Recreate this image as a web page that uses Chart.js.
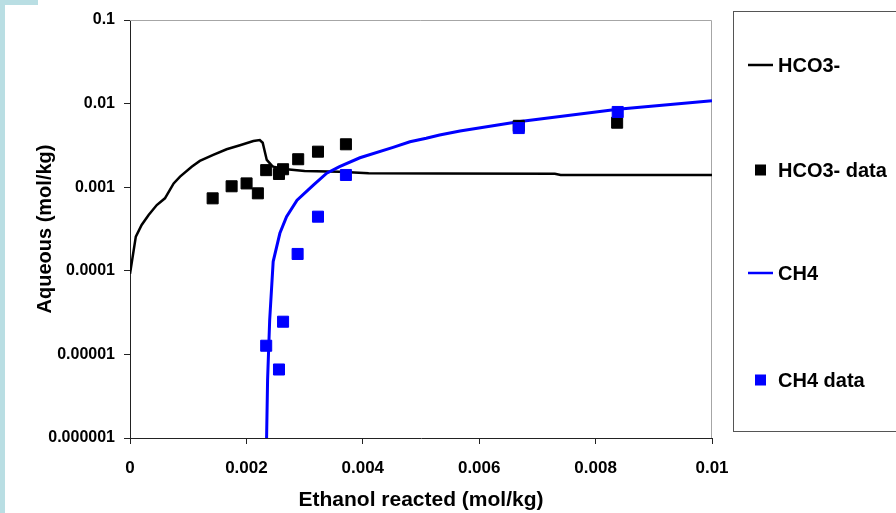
<!DOCTYPE html>
<html>
<head>
<meta charset="utf-8">
<script src="https://cdn.jsdelivr.net/npm/chart.js@4.4.1/dist/chart.umd.min.js"></script>
<style>
  html, body { margin: 0; padding: 0; background: #fff; overflow: hidden; }
  canvas { display: block; }
</style>
</head>
<body>
<canvas id="chart" width="896" height="513"></canvas>
<script>
// Model curves
const hco3ModelX = [0, 0.0001, 0.0002, 0.00032, 0.00046, 0.0006, 0.00075, 0.00086, 0.00106, 0.0012, 0.00143, 0.00166, 0.00189, 0.00212, 0.00223, 0.00228, 0.00235, 0.00243, 0.00246, 0.00269, 0.003, 0.0036, 0.0041, 0.0053, 0.0073, 0.0074, 0.01];
const hco3ModelY = [9.2e-5, 2.56e-4, 3.53e-4, 4.65e-4, 6.12e-4, 7.36e-4, 1.11e-3, 1.34e-3, 1.76e-3, 2.06e-3, 2.43e-3, 2.84e-3, 3.17e-3, 3.57e-3, 3.67e-3, 3.4e-3, 2.12e-3, 1.84e-3, 1.76e-3, 1.64e-3, 1.56e-3, 1.53e-3, 1.47e-3, 1.46e-3, 1.45e-3, 1.40e-3, 1.40e-3];

const ch4ModelX = [0.002347, 0.002364, 0.0024, 0.00246, 0.002575, 0.00269, 0.00287, 0.00315, 0.00338, 0.0036, 0.00395, 0.00452, 0.00481, 0.00509, 0.00532, 0.00567, 0.00667, 0.00838, 0.01];
const ch4ModelY = [1e-6, 4.94e-6, 2.58e-5, 1.29e-4, 2.81e-4, 4.44e-4, 7.0e-4, 1.06e-3, 1.47e-3, 1.76e-3, 2.25e-3, 3.0e-3, 3.5e-3, 3.85e-3, 4.21e-3, 4.7e-3, 6.08e-3, 8.55e-3, 1.08e-2];

// Measured data
const hco3DataX = [0.00142, 0.001746, 0.002003, 0.002197, 0.00234, 0.00256, 0.00263, 0.00289, 0.00323, 0.00371, 0.00668, 0.00837];
const hco3DataY = [7.36e-4, 1.026e-3, 1.11e-3, 8.45e-4, 1.6e-3, 1.44e-3, 1.64e-3, 2.16e-3, 2.66e-3, 3.26e-3, 5.42e-3, 5.91e-3];

const ch4DataX = [0.00234, 0.00256, 0.00263, 0.00288, 0.00323, 0.00371, 0.00668, 0.00838];
const ch4DataY = [1.27e-5, 6.6e-6, 2.46e-5, 1.59e-4, 4.44e-4, 1.4e-3, 5.1e-3, 7.94e-3];

// Axis ticks
const xTicks = [0, 0.002, 0.004, 0.006, 0.008, 0.01];
const xTickLabels = ["0", "0.002", "0.004", "0.006", "0.008", "0.01"];
const yTicks = [1e-6, 1e-5, 1e-4, 1e-3, 1e-2, 1e-1];
const yTickLabels = ["0.000001", "0.00001", "0.0001", "0.001", "0.01", "0.1"];

const FONT = "'Liberation Sans', Arial, sans-serif";

const toPoints = (xs, ys) => xs.map((x, i) => ({ x, y: ys[i] }));

// Slide background strip + gray top/right frame
const framePlugin = {
  id: "frame",
  beforeDraw(chart) {
    const ctx = chart.ctx;
    ctx.save();
    ctx.fillStyle = "#fff";
    ctx.fillRect(0, 0, chart.width, chart.height);
    ctx.fillStyle = "#b9dee3";
    ctx.fillRect(0, 0, 5, chart.height);
    ctx.fillRect(0, 0, 38, 5);
    ctx.restore();
  },
  beforeDatasetsDraw(chart) {
    const { ctx, chartArea: a } = chart;
    ctx.save();
    ctx.strokeStyle = "#a6a6a6";
    ctx.lineWidth = 1;
    ctx.beginPath();
    ctx.moveTo(a.left, a.top + 0.5);
    ctx.lineTo(a.right - 0.5, a.top + 0.5);
    ctx.lineTo(a.right - 0.5, a.bottom);
    ctx.stroke();
    ctx.restore();
  }
};

// Boxed legend on the right, items spaced out like the original
const boxLegend = {
  id: "boxLegend",
  afterDraw(chart) {
    const ctx = chart.ctx;
    ctx.save();
    ctx.strokeStyle = "#555";
    ctx.lineWidth = 1;
    ctx.strokeRect(733.5, 11.5, 200, 420);
    const rows = [65, 170, 273, 380];
    ctx.font = "bold 20px " + FONT;
    ctx.textBaseline = "middle";
    ctx.fillStyle = "#000";
    chart.data.datasets.forEach((ds, i) => {
      const y = rows[i];
      if (ds.showLine) {
        ctx.strokeStyle = ds.borderColor;
        ctx.lineWidth = 2.5;
        ctx.beginPath();
        ctx.moveTo(748, y);
        ctx.lineTo(773, y);
        ctx.stroke();
      } else {
        ctx.fillStyle = ds.backgroundColor;
        ctx.fillRect(755, y - 5.5, 11, 11);
      }
      ctx.fillStyle = "#000";
      ctx.fillText(ds.label, 778, y + 1);
    });
    ctx.restore();
  }
};

new Chart(document.getElementById("chart"), {
  type: "scatter",
  data: {
    datasets: [
      {
        label: "HCO3-",
        data: toPoints(hco3ModelX, hco3ModelY),
        showLine: true,
        borderColor: "#000",
        backgroundColor: "#000",
        borderWidth: 2.5,
        pointRadius: 0,
        tension: 0,
        order: 3
      },
      {
        label: "HCO3- data",
        data: toPoints(hco3DataX, hco3DataY),
        showLine: false,
        pointStyle: "rect",
        pointRadius: 7.8,
        borderWidth: 1,
        borderColor: "#000",
        backgroundColor: "#000",
        order: 1
      },
      {
        label: "CH4",
        data: toPoints(ch4ModelX, ch4ModelY),
        showLine: true,
        borderColor: "#0000ff",
        backgroundColor: "#0000ff",
        borderWidth: 3,
        pointRadius: 0,
        tension: 0,
        order: 2
      },
      {
        label: "CH4 data",
        data: toPoints(ch4DataX, ch4DataY),
        showLine: false,
        pointStyle: "rect",
        pointRadius: 7.8,
        borderWidth: 1,
        borderColor: "#0000ff",
        backgroundColor: "#0000ff",
        order: 0
      }
    ]
  },
  options: {
    responsive: false,
    animation: false,
    layout: { padding: { left: 0, top: 20, right: 184, bottom: 0 } },
    plugins: {
      legend: { display: false },
      tooltip: { enabled: false }
    },
    scales: {
      x: {
        type: "linear",
        min: 0,
        max: 0.01,
        afterBuildTicks: s => { s.ticks = xTicks.map(v => ({ value: v })); },
        afterFit: s => { s.height = 75; },
        grid: { display: true, drawOnChartArea: false, drawTicks: true, tickLength: 6, tickColor: "#222" },
        border: { display: true, color: "#222", width: 1 },
        ticks: {
          autoSkip: false,
          maxRotation: 0,
          padding: 14,
          color: "#000",
          font: { family: FONT, size: 17, weight: "bold" },
          callback: (v, i) => xTickLabels[i]
        },
        title: {
          display: true,
          text: "Ethanol reacted (mol/kg)",
          color: "#000",
          font: { family: FONT, size: 21, weight: "bold" },
          padding: { top: 0, bottom: 0 }
        }
      },
      y: {
        type: "logarithmic",
        min: 1e-6,
        max: 0.1,
        afterBuildTicks: s => { s.ticks = yTicks.map(v => ({ value: v })); },
        afterFit: s => { s.width = 130; },
        grid: { display: true, drawOnChartArea: false, drawTicks: true, tickLength: 6, tickColor: "#222" },
        border: { display: true, color: "#222", width: 1 },
        ticks: {
          autoSkip: false,
          padding: 9,
          color: "#000",
          font: { family: FONT, size: 16, weight: "bold" },
          callback: (v, i) => yTickLabels[i]
        },
        title: {
          display: true,
          text: "Aqueous (mol/kg)",
          color: "#000",
          font: { family: FONT, size: 20, weight: "bold" },
          padding: { top: 33, bottom: 0 }
        }
      }
    }
  },
  plugins: [framePlugin, boxLegend]
});
</script>
</body>
</html>
